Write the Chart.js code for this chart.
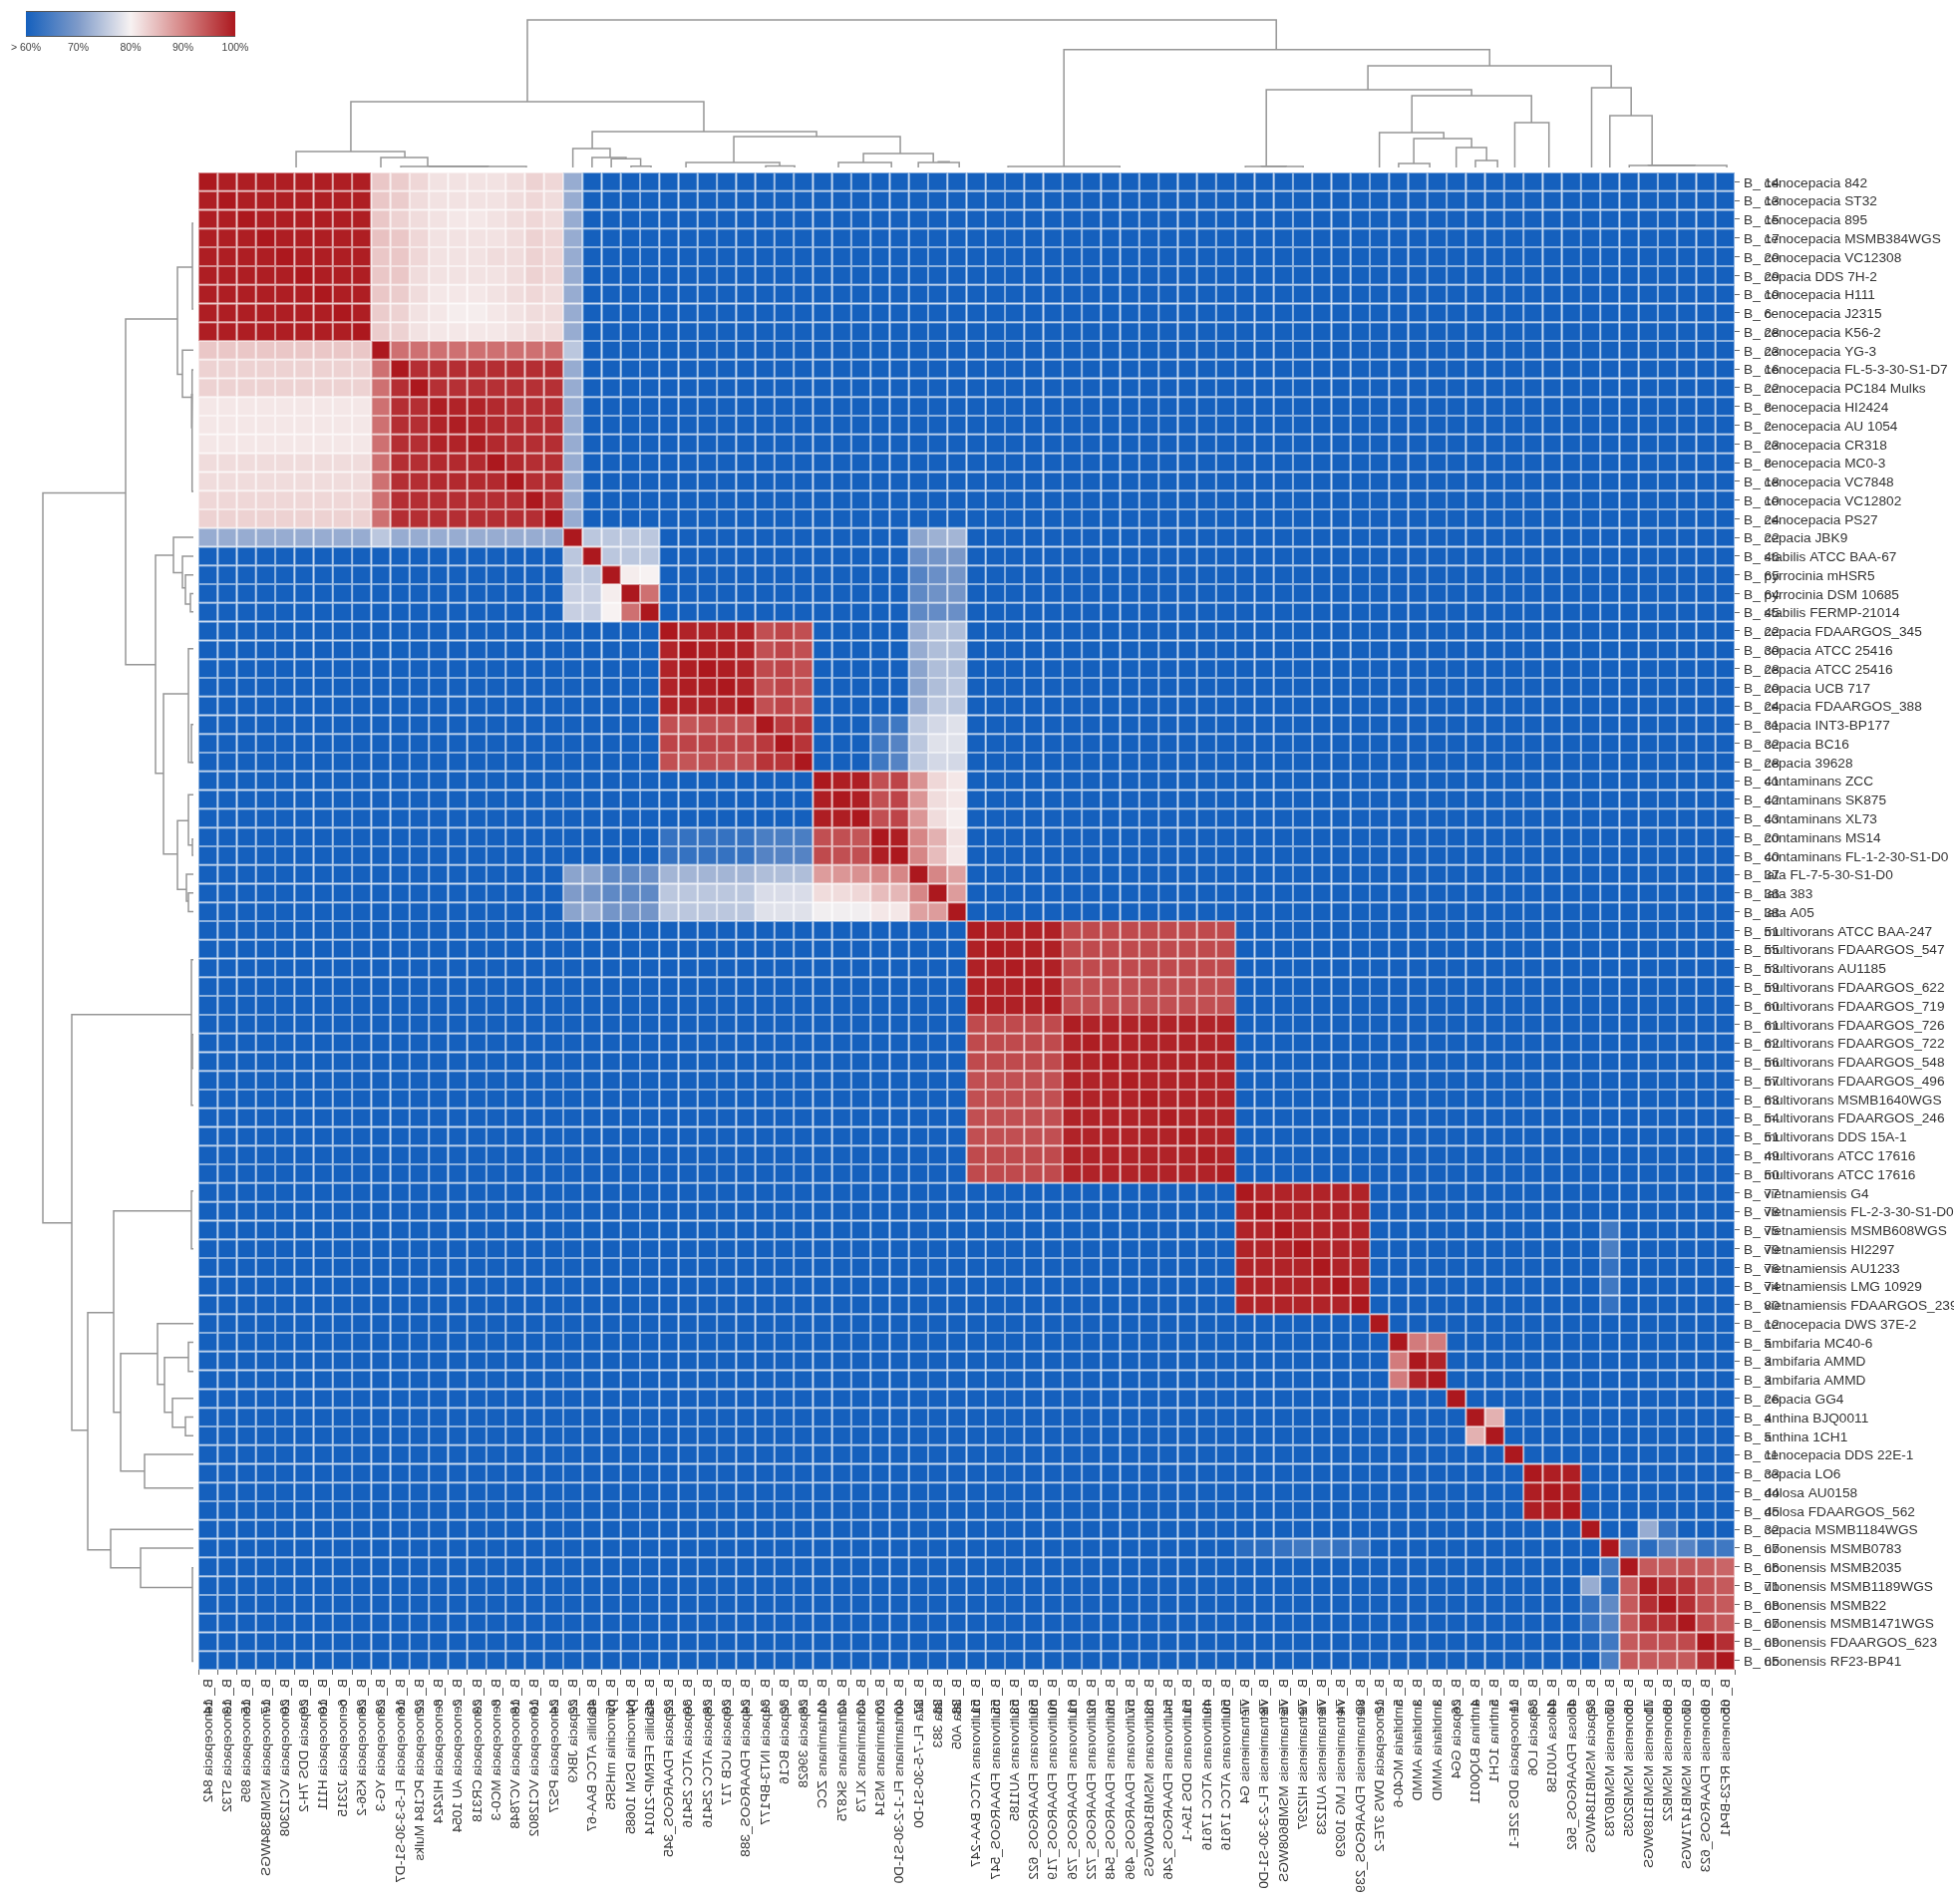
<!DOCTYPE html>
<html><head><meta charset="utf-8">
<script src="https://cdn.jsdelivr.net/npm/chart.js@4"></script>
<style>
html,body{margin:0;padding:0;background:#fff;width:1960px;height:1910px;overflow:hidden}
canvas{position:absolute;filter:blur(.55px)}
</style></head><body>
<canvas id="heat" width="1960" height="1910" style="left:0;top:0"></canvas>
<canvas id="topTree" width="1541" height="168" style="left:199px;top:0"></canvas>
<canvas id="leftTree" width="194" height="1502" style="left:0;top:173px"></canvas>
<canvas id="scale" width="280" height="62" style="left:0;top:0"></canvas>
<script>
// ---------- Data ----------
const taxa = ["B_ cenocepacia 842","B_ cenocepacia ST32","B_ cenocepacia 895","B_ cenocepacia MSMB384WGS","B_ cenocepacia VC12308","B_ cepacia DDS 7H-2","B_ cenocepacia H111","B_ cenocepacia J2315","B_ cenocepacia K56-2","B_ cenocepacia YG-3","B_ cenocepacia FL-5-3-30-S1-D7","B_ cenocepacia PC184 Mulks","B_ cenocepacia HI2424","B_ cenocepacia AU 1054","B_ cenocepacia CR318","B_ cenocepacia MC0-3","B_ cenocepacia VC7848","B_ cenocepacia VC12802","B_ cenocepacia PS27","B_ cepacia JBK9","B_ stabilis ATCC BAA-67","B_ pyrrocinia mHSR5","B_ pyrrocinia DSM 10685","B_ stabilis FERMP-21014","B_ cepacia FDAARGOS_345","B_ cepacia ATCC 25416","B_ cepacia ATCC 25416","B_ cepacia UCB 717","B_ cepacia FDAARGOS_388","B_ cepacia INT3-BP177","B_ cepacia BC16","B_ cepacia 39628","B_ contaminans ZCC","B_ contaminans SK875","B_ contaminans XL73","B_ contaminans MS14","B_ contaminans FL-1-2-30-S1-D0","B_ lata FL-7-5-30-S1-D0","B_ lata 383","B_ lata A05","B_ multivorans ATCC BAA-247","B_ multivorans FDAARGOS_547","B_ multivorans AU1185","B_ multivorans FDAARGOS_622","B_ multivorans FDAARGOS_719","B_ multivorans FDAARGOS_726","B_ multivorans FDAARGOS_722","B_ multivorans FDAARGOS_548","B_ multivorans FDAARGOS_496","B_ multivorans MSMB1640WGS","B_ multivorans FDAARGOS_246","B_ multivorans DDS 15A-1","B_ multivorans ATCC 17616","B_ multivorans ATCC 17616","B_ vietnamiensis G4","B_ vietnamiensis FL-2-3-30-S1-D0","B_ vietnamiensis MSMB608WGS","B_ vietnamiensis HI2297","B_ vietnamiensis AU1233","B_ vietnamiensis LMG 10929","B_ vietnamiensis FDAARGOS_239","B_ cenocepacia DWS 37E-2","B_ ambifaria MC40-6","B_ ambifaria AMMD","B_ ambifaria AMMD","B_ cepacia GG4","B_ anthina BJQ0011","B_ anthina 1CH1","B_ cenocepacia DDS 22E-1","B_ cepacia LO6","B_ dolosa AU0158","B_ dolosa FDAARGOS_562","B_ cepacia MSMB1184WGS","B_ ubonensis MSMB0783","B_ ubonensis MSMB2035","B_ ubonensis MSMB1189WGS","B_ ubonensis MSMB22","B_ ubonensis MSMB1471WGS","B_ ubonensis FDAARGOS_623","B_ ubonensis RF23-BP41"];
const overprintNumbers = ["14","13","15","17","20","29","10","6","28","23","16","22","8","2","23","8","18","10","24","22","46","65","64","45","22","30","28","20","24","31","32","28","41","42","43","20","40","37","36","38","51","55","53","59","60","61","62","56","57","63","54","51","49","50","77","78","75","79","76","74","80","12","5","3","3","26","4","5","11","33","44","45","32","67","66","71","68","67","69","65"];

// identity (%) per row, read left to right; "v*n" means n neighbouring cells read as v
const identityRows = [
"100 99.5*8 84 83.5 82.5 81.5 81.5 81.5 81.5 82 83 82.5 72 60*60",
"99.5 100 99.5*7 84 83.5 82 81.5 81.5 81.5 81.5 82 82.5 82 72 60*60",
"99.5*2 100 99.5*6 84 83 82 81.5 81 81 81.5 82 82.5 82 72 60*60",
"99.5*3 100 99.5*5 84.5 84 82.5 81.5 81.5 81.5 81.5 82 83 82.5 72 60*60",
"99.5*4 100 99.5*4 84 84 82.5 81.5 81.5 81.5 82 82 83 82.5 72 60*60",
"99.5*5 100 99.5*3 84 84 82 81.5 81.5 81.5 81.5 82 83 82.5 72 60*60",
"99.5*6 100 99.5*2 84 83.5 82 81 81 81 81.5 82 82.5 82 72 60*60",
"99.5*7 100 99.5 83.5 83 81.5 81 80.5 80.5 81 81.5 82 82 72 60*60",
"99.5*8 100 83.5 83 81.5 81 81 81 81 81.5 82 82 72 60*60",
"84*9 100 92*9 75 60*60",
"83*9 92 100 98*8 72 60*60",
"83*9 92 98 100 97.8*7 72 60*60",
"81*9 92 98*2 99.5 99 99 98.5 98*3 72 60*60",
"81*9 92 98*2 99 99.5 99 98.5 98*3 72 60*60",
"81*9 92 98*2 99 99 99.5 98.5 98*3 72 60*60",
"82*9 92 98*2 98.5*3 100 98.5 98*2 72 60*60",
"82*9 92 98*2 98.5*3 98.5 100 98*2 72 60*60",
"82.5*9 92 98*2 98*3 98 98 100 98 72 60*60",
"83*9 92 98*8 100 72 60*60",
"72*9 75 72*9 100 75*4 60*13 71 72.5 73 60*40",
"60*19 75 100 75*3 60*13 68 69 69.5 60*40",
"60*19 75 75 100 80.5 80 60*13 66 68 69 60*40",
"60*19 76 76 80.5 100 92 60*13 67 68.5 69 60*40",
"60*19 76 76 80 92 100 60*13 67 67.5 68 60*40",
"60*24 100 99 99 99 99 95 96 95 60*5 72 74 74 60*40",
"60*24 99 100 99.5 99.5 99 95 96 95 60*5 72 74 74 60*40",
"60*24 99 99.5 100 99.5 99 95.5 96 95 60*5 71 74 74 60*40",
"60*24 99 99.5 99.5 100 99 95 96 95 60*5 71 74 75 60*40",
"60*24 99 99 99 99 100 95 96 95 60*5 72 75 75 60*40",
"60*24 95 94.5 95 95 95 100 97 97.5 60*3 63 64 75 77 78 60*40",
"60*24 96 96 96 96 96 97 100 97.5 60*3 64 66 75 78 78 60*40",
"60*24 95 94.5 95 95 95 97.5 97.5 100 60*3 64 66 75 77 77 60*40",
"60*32 100 99.5 99.5 95 96 89 82.5 81 60*40",
"60*32 99.5 100 99.5 95 96 88.5 82 81 60*40",
"60*32 99.5 99.5 100 95 96 88.5 82 80.5 60*40",
"60*24 63*5 65*3 95 95 94.5 100 99.5 90 86 81.5 60*40",
"60*24 63*5 66*3 95.5 95 95 99.5 100 90 85 81 60*40",
"60*19 71 71 67 67 68 73*5 74*3 88 88.5 89 90 90 100 90 87.5 60*40",
"60*19 70 69 67 67 67 75*5 77.5*3 82 82 82.5 85 85.5 90 100 88 60*40",
"60*19 71 72 69 69 69 75*5 78*3 79.5 79.5 79.5 81 81 87.5 88 100 60*40",
"60*40 99.6 99.2 99.2 99.2 99.2 95.5*9 60*26",
"60*40 99.2 99.6 99.2 99.2 99.2 95.5*9 60*26",
"60*40 99.2 99.2 99.6 99.2 99.2 95.5*9 60*26",
"60*40 99.2 99.2 99.2 99.6 99.2 95*9 60*26",
"60*40 99.2 99.2 99.2 99.2 99.6 95*9 60*26",
"60*40 95.5*5 99.5 99 99*7 60*26",
"60*40 95.5*5 99 99.5 99*7 60*26",
"60*40 95.5*5 99 99 99.5 99*6 60*26",
"60*40 95*5 99*3 99.5 99*5 60*26",
"60*40 95*5 99*4 99.5 99*4 60*26",
"60*40 95*5 99*5 99.5 99*3 60*26",
"60*40 95*5 99*6 99.5 99*2 60*26",
"60*40 95.5*5 99*7 99.5 99 60*26",
"60*40 95.5*5 99*8 99.5 60*26",
"60*54 100 99 99 99 99 99 99 60*19",
"60*54 99 100 99 99 99 99 99 60*19",
"60*54 99 99 100 99 99 99 99 60*12 64 60*6",
"60*54 99 99 99 100 99 99 99 60*12 65 60*6",
"60*54 99*4 100 99 99 60*12 63 60*6",
"60*54 99*5 100 99 60*12 64 60*6",
"60*54 99*6 100 60*12 63 60*6",
"60*61 100 60*18",
"60*62 100 91 91 60*15",
"60*62 91 100 99 60*15",
"60*62 91 99 100 60*15",
"60*65 100 60*14",
"60*66 100 86 60*12",
"60*66 86 100 60*12",
"60*68 100 60*11",
"60*69 100 99.5 99.5 60*8",
"60*69 99.5 100 99.5 60*8",
"60*69 99.5 99.5 100 60*8",
"60*72 100 60*2 72 63 60*3",
"60*54 62 62 63 64 64 63 63 60*12 100 64 62 66 66 63 64",
"60*73 64 100 94 94 94.5 94 93",
"60*72 72 62 94 99.5 98 97.5 95 94",
"60*72 63 67 94 98 100 98 95 94",
"60*72 63 66 94 97.5 98 100 95.5 94",
"60*72 61 64 94 95 95 95.5 100 98",
"60*73 65 94 94 94 94 98 100"];

// colour scale ticks
const scaleTicks = [60,70,80,90,100];
const scaleTickLabels = ["> 60%","70%","80%","90%","100%"];
const scaleColors = [[21,96,189],[127,155,201],[247,242,242],[214,134,134],[172,24,30]];

// column dendrogram links: [left leaf pos, right leaf pos, join height, left child height, right child height]
const columnLinks = [
[17.13,56.13,148,66,118.3],[7.94,26.32,66,16,36],[5.09,10.75,16,0,10],[9.5,11.94,10,0,1],[10.54,17.08,1,0,0],[12,15.1,1.3,1,1],
[20.51,32.19,36,19,31],[19.5,21.44,19,0,10],[20.5,22.27,10,0,8.7],[21.5,23.03,8.7,0,1.3],[22.53,23.57,1.3,0,0],
[27.88,36.55,31,5,14],[25.39,30.27,5,0,1.5],[29.54,31.05,1.5,0,0],[34.63,38.27,14,5,5],[33.33,36.09,5,0,0],[37.49,39.62,5,0,0],[38.53,39.1,5.8,5,5],
[45.07,67.24,118.3,1,102],[42.16,47.98,1,0,0],[60.9,73.57,102,78,80],[55.61,66.3,78,1,72],[54.52,57.53,1,0,0],[55.35,56.65,1.3,1,1],
[63.19,69.42,72,35,45],[61.5,64.85,35,0,29],[63.29,66.3,29,4,20],[62.5,64.12,4,0,0],[65.5,67.08,20,0,7],[66.5,67.65,7,0,0],[68.55,70.33,45,0,0],
[72.55,74.61,80,0,52],[73.5,75.7,52,0,2],[74.51,79.59,2,0,0],[75.5,77.93,2.3,2,2]];

// row dendrogram links: [upper leaf pos, lower leaf pos, join distance, upper child distance, lower child distance]
const rowLinks = [
[17.12,56.12,151,68,122],[7.83,26.3,68,16,38],[5.06,10.78,16,1,11],[2.72,7.3,1,0,0],[9.5,12.01,11,0,1.3],[10.54,17.04,1.3,0,0],[11.82,13.68,2,1.3,1.3],
[20.45,32.11,38,20,30],[19.5,21.38,20,0,11],[20.5,22.2,11,0,8],[21.5,23.06,8,0,3],[22.5,23.48,3,0,0],
[27.85,36.42,30,5,16],[25.45,31.52,5,0,0],[29.5,31.52,2,0,0],[34.64,38.31,16,5,7],[33.25,35.94,5,0,1],[35.62,36.48,1,0,0],[37.5,38.93,7,0,5],[38.5,39.5,5,0,0],
[44.99,67.2,122,2,106],[42.07,49.84,2,0,0],[46.06,47.87,1,0,0],[60.92,73.59,106,80,83],[55.48,66.24,80,2,73],[54.42,57.51,2,0,0],
[63.1,69.39,73,36,49],[61.5,64.75,36,0,29],[63.31,66.24,29,5,21],[62.5,64.06,5,0,0],[65.5,67.04,21,0,8],[66.5,67.5,8,0,0],[68.5,70.29,49,0,0],
[72.5,74.55,83,0,53],[73.5,75.61,53,0,1],[74.55,79.55,1,0,0]];

// ---------- Helpers ----------
const identity = identityRows.map((r,i)=>{
  const out=[];
  r.split(' ').forEach(tok=>{const [v,n]=tok.split('*');for(let k=0;k<(n?+n:1);k++)out.push(+v);});
  if(out.length!==80) throw new Error('row '+(i+1)+' has '+out.length);
  return out;
});
function rgbFor(v){
  const p=Math.max(60,Math.min(100,v));
  const s=Math.min(3,Math.floor((p-60)/10)), t=(p-scaleTicks[s])/10;
  return scaleColors[s].map((c,k)=>Math.round(c+(scaleColors[s+1][k]-c)*t));
}
const cssOf=a=>`rgb(${a[0]},${a[1]},${a[2]})`;
const lineOf=a=>cssOf(a.map(c=>Math.round(c+(255-c)*.5)));
const FONT="'Liberation Sans', Arial, sans-serif", FS=13.7, TXT='#333';

// ---------- Heatmap ----------
const rowDatasets = identity.map((vals,r)=>({
  data: vals.map(()=>[r,r+1]),
  backgroundColor: vals.map(v=>cssOf(rgbFor(v))),
  borderColor: vals.map(v=>lineOf(rgbFor(v))),
  borderWidth: 1, borderSkipped:false, inflateAmount:0,
  barPercentage:1, categoryPercentage:1, grouped:false
}));
const overprint = {
  id:'overprint',
  afterDraw(chart){
    const {ctx,scales:{x,y}}=chart;
    ctx.save();
    ctx.font=`${FS}px ${FONT}`; ctx.fillStyle=TXT; ctx.textBaseline='middle'; ctx.textAlign='left';
    const lx=y.left+9, pre=ctx.measureText('B_ ').width;
    taxa.forEach((t,i)=>{
      // row label, with its number printed over the start
      const py=y.getPixelForValue(i+.5)+1.5;
      ctx.fillText(t,lx,py); ctx.fillText(overprintNumbers[i],lx+pre,py);
      // column label: vertically flipped, reading top to bottom
      ctx.save();
      ctx.translate(x.getPixelForValue(i)+.5,x.top+9);
      ctx.rotate(Math.PI/2); ctx.scale(1,-1);
      ctx.fillText(t,0,0); ctx.fillText(overprintNumbers[i],pre,0);
      ctx.restore();
    });
    ctx.restore();
  }
};
new Chart(document.getElementById('heat'),{
  type:'bar',
  data:{labels:taxa,datasets:rowDatasets},
  options:{
    responsive:false,animation:false,events:[],
    layout:{padding:{left:199,top:173,right:0,bottom:0}},
    plugins:{legend:{display:false},tooltip:{enabled:false}},
    scales:{
      x:{type:'category',position:'bottom',
        grid:{drawOnChartArea:false,drawTicks:true,tickLength:5,tickColor:'#666'},border:{display:false},
        ticks:{display:false,autoSkip:false},
        afterFit(s){s.height=235;}},
      y:{type:'linear',position:'right',reverse:true,min:0,max:80,
        grid:{drawOnChartArea:false,drawTicks:true,tickLength:5,tickColor:'#666'},border:{display:false},
        afterBuildTicks(s){s.ticks=taxa.map((_,i)=>({value:i+.5}));},
        ticks:{display:false,autoSkip:false},
        afterFit(s){s.width=220;}}
    }
  },
  plugins:[overprint]
});

// ---------- Dendrograms ----------
const treeStyle={showLine:true,pointRadius:0,borderColor:'#969696',borderWidth:1.5,fill:false,clip:false,tension:0};
new Chart(document.getElementById('topTree'),{
  type:'scatter',
  data:{datasets:columnLinks.map(([a,b,h,ha,hb])=>({...treeStyle,
    data:[{x:a,y:ha},{x:a,y:h},{x:b,y:h},{x:b,y:hb}]}))},
  options:{responsive:false,animation:false,events:[],layout:{padding:0},
    plugins:{legend:{display:false},tooltip:{enabled:false}},
    scales:{x:{type:'linear',min:0,max:80,display:false},y:{type:'linear',min:0,max:168,display:false}}}
});
new Chart(document.getElementById('leftTree'),{
  type:'scatter',
  data:{datasets:rowLinks.map(([a,b,d,da,db])=>({...treeStyle,
    data:[{x:da,y:a},{x:d,y:a},{x:d,y:b},{x:db,y:b}]}))},
  options:{responsive:false,animation:false,events:[],layout:{padding:0},
    plugins:{legend:{display:false},tooltip:{enabled:false}},
    scales:{x:{type:'linear',min:0,max:194,reverse:true,display:false},y:{type:'linear',min:0,max:80,reverse:true,display:false}}}
});

// ---------- Colour bar ----------
new Chart(document.getElementById('scale'),{
  type:'bar',
  data:{labels:['identity'],datasets:[{
    data:[[scaleTicks[0],scaleTicks[4]]],
    backgroundColor(c){
      const a=c.chart.chartArea; if(!a) return cssOf(scaleColors[2]);
      const g=c.chart.ctx.createLinearGradient(a.left,0,a.right,0);
      scaleColors.forEach((col,i)=>g.addColorStop(i/4,cssOf(col)));
      return g;
    },
    borderColor:'#555',borderWidth:{top:1,bottom:1,left:0,right:0},borderSkipped:false,inflateAmount:0,
    barPercentage:1,categoryPercentage:1}]},
  options:{indexAxis:'y',responsive:false,animation:false,events:[],
    layout:{padding:{left:26,top:11,right:44,bottom:0}},
    plugins:{legend:{display:false},tooltip:{enabled:false}},
    scales:{
      x:{type:'linear',min:60,max:100,grid:{display:false,drawTicks:false},border:{display:false},
        afterBuildTicks(s){s.ticks=scaleTicks.map(v=>({value:v}));},
        ticks:{autoSkip:false,maxRotation:0,padding:5,color:'#444',font:{family:FONT,size:10.5},
          callback:v=>scaleTickLabels[scaleTicks.indexOf(v)]},
        afterFit(s){s.height=25;}},
      y:{display:false}
    }}
});
</script>
</body></html>
